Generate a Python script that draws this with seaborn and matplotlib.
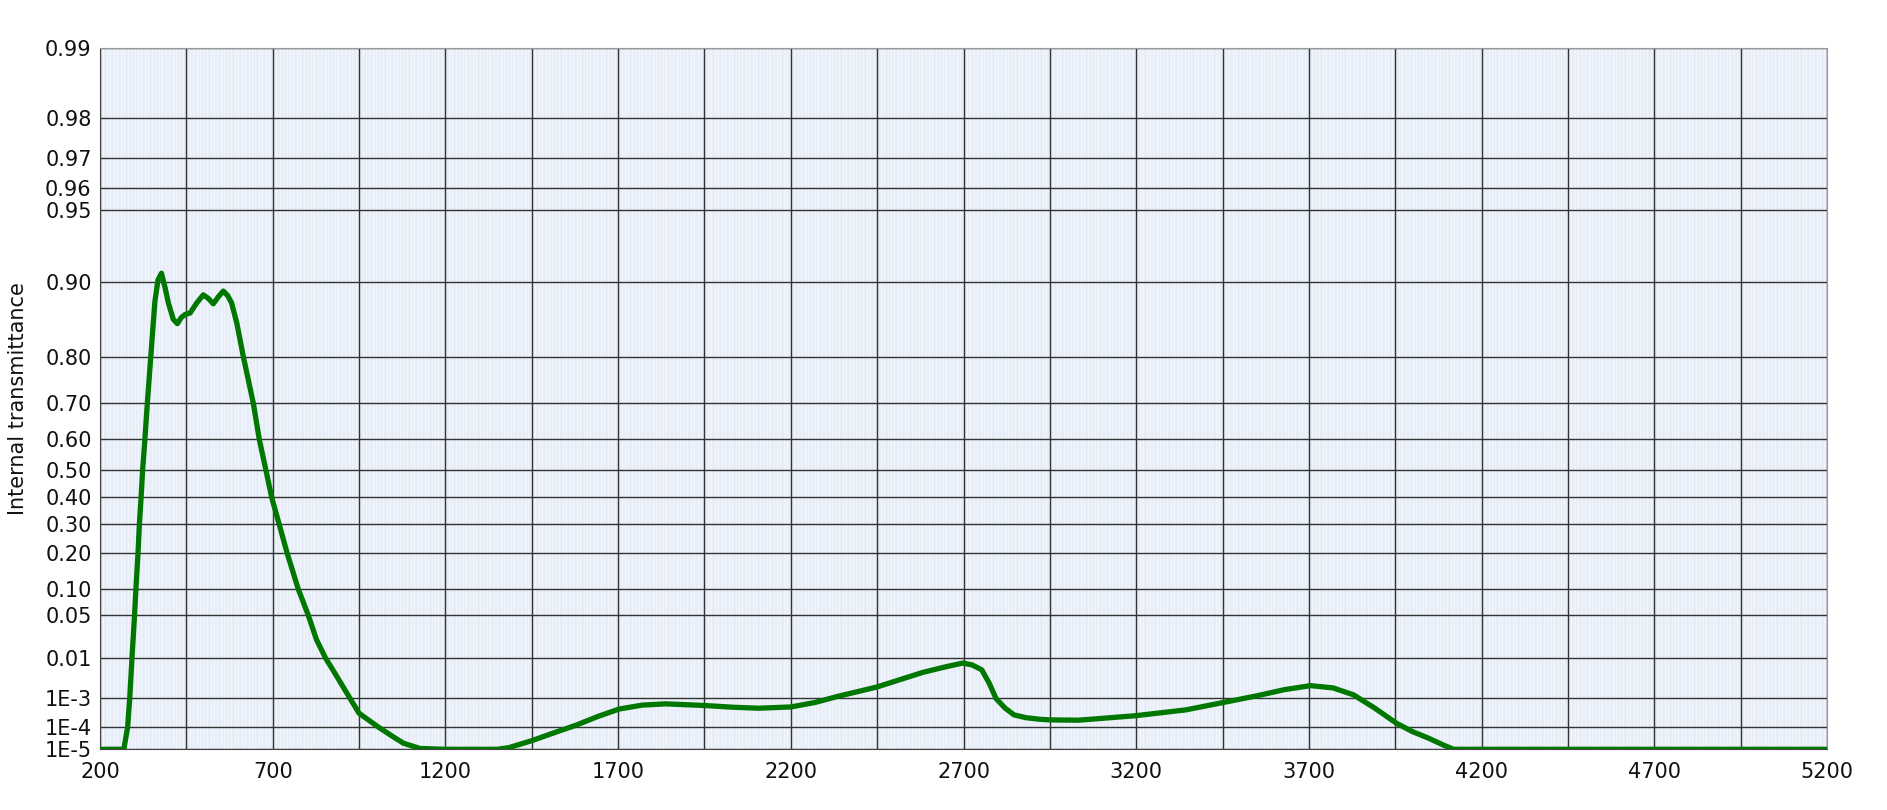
import numpy as np
import pandas as pd
import matplotlib
matplotlib.use("Agg")
import matplotlib.pyplot as plt
import seaborn as sns
from matplotlib.ticker import MultipleLocator, NullLocator

# curva de transmitancia interna
longitud_onda = [200, 269, 280, 286, 292.6, 300, 304, 310, 314, 319, 323.5, 330, 337, 347,
                 359, 368, 378, 388, 398, 412, 424, 435, 446, 461, 480, 499, 514, 528,
                 543, 557, 570, 581, 596, 615, 644, 661, 680, 697, 719, 742, 774, 803,
                 827, 853, 880, 924, 950, 1006, 1050, 1078, 1126, 1200, 1350, 1383, 1450,
                 1510, 1579, 1640, 1703, 1770, 1838, 1952, 2030, 2107, 2200, 2270, 2334,
                 2448, 2582, 2650, 2698, 2725, 2753, 2775, 2794, 2820, 2846, 2880, 2921,
                 2950, 3033, 3198, 3343, 3452, 3550, 3630, 3705, 3770, 3829, 3890, 3953,
                 4000, 4046, 4090, 4119, 4500, 5200]
transmitancia = [1e-5, 1e-5, 1e-4, 1e-3, 0.01, 0.05, 0.10, 0.20, 0.30, 0.40, 0.50, 0.60,
                 0.70, 0.80, 0.88, 0.902, 0.908, 0.895, 0.878, 0.858, 0.852, 0.86, 0.864,
                 0.866, 0.878, 0.887, 0.883, 0.877, 0.885, 0.891, 0.886, 0.878, 0.853,
                 0.80, 0.70, 0.60, 0.50, 0.40, 0.30, 0.20, 0.10, 0.05, 0.0216, 0.01,
                 4.7e-3, 1e-3, 3.3e-4, 1e-4, 3.8e-5, 2.0e-5, 1.1e-5, 1e-5, 1e-5, 1.2e-5,
                 2.6e-5, 5.5e-5, 1.2e-4, 2.5e-4, 4.6e-4, 6.2e-4, 6.8e-4, 6.0e-4, 5.3e-4,
                 4.9e-4, 5.4e-4, 7.5e-4, 1.14e-3, 2.1e-3, 4.9e-3, 6.6e-3, 7.9e-3, 7.2e-3,
                 5.6e-3, 2.6e-3, 1.0e-3, 5.0e-4, 2.9e-4, 2.3e-4, 2.0e-4, 1.9e-4, 1.85e-4,
                 2.7e-4, 4.3e-4, 7.5e-4, 1.2e-3, 1.8e-3, 2.3e-3, 2.0e-3, 1.28e-3, 5.0e-4,
                 1.43e-4, 6.5e-5, 3.4e-5, 1.6e-5, 1e-5, 1e-5, 1e-5]

marcas_y = [0.99, 0.98, 0.97, 0.96, 0.95, 0.90, 0.80, 0.70, 0.60, 0.50, 0.40, 0.30,
            0.20, 0.10, 0.05, 0.01, 1e-3, 1e-4, 1e-5]
etiquetas_y = ["0.99", "0.98", "0.97", "0.96", "0.95", "0.90", "0.80", "0.70", "0.60",
               "0.50", "0.40", "0.30", "0.20", "0.10", "0.05", "0.01", "1E-3", "1E-4", "1E-5"]
marcas_x = list(range(200, 5201, 250))
etiquetas_x = [str(v) if (v - 200) % 500 == 0 else "" for v in marcas_x]


def escala_directa(t):
    # escala doble logaritmica: -log10(-ln T)
    t = np.clip(np.asarray(t, dtype=float), 1e-300, 1 - 1e-12)
    return -np.log10(-np.log(t))


def escala_inversa(y):
    return np.exp(-np.power(10.0, -np.asarray(y, dtype=float)))


sns.set_style("white")
plt.rcParams["font.family"] = ["DejaVu Sans"]

fig = plt.figure(figsize=(18.87, 8.10), dpi=100)
ax = fig.add_axes([100 / 1887, 1 - 749.3 / 810, 1727 / 1887, 701.3 / 810])
ax.set_facecolor("#e7eef8")

ax.set_yscale("function", functions=(escala_directa, escala_inversa))
ax.set_ylim(1e-5, 0.99)
ax.set_xlim(200, 5200)

ax.set_xticks(marcas_x)
ax.set_xticklabels(etiquetas_x)
ax.set_yticks(marcas_y)
ax.set_yticklabels(etiquetas_y)
ax.yaxis.set_minor_locator(NullLocator())
ax.xaxis.set_minor_locator(MultipleLocator(10))

ax.grid(which="minor", axis="x", color="#f6f8fc", linewidth=0.7, alpha=0.8)
ax.grid(which="major", color="#333333", linewidth=1.0)
ax.set_axisbelow(True)

df = pd.DataFrame({"nm": np.asarray(longitud_onda, dtype=float),
                   "T": np.clip(transmitancia, 1e-5, None)})
sns.lineplot(data=df, x="nm", y="T", ax=ax, color="#007700", linewidth=3.8,
             estimator=None, sort=False, zorder=3)

ax.tick_params(axis="both", which="both", length=0, labelsize=15, colors="#111111")
ax.tick_params(axis="y", pad=6)
ax.tick_params(axis="x", pad=9)
ax.set_ylabel("Internal transmittance", fontsize=15, color="#111111", labelpad=12)
ax.set_xlabel("")

for lado in ["left", "bottom"]:
    ax.spines[lado].set_color("#444444")
for lado in ["top", "right"]:
    ax.spines[lado].set_color("#999999")

fig.savefig("out.png", dpi=100)
